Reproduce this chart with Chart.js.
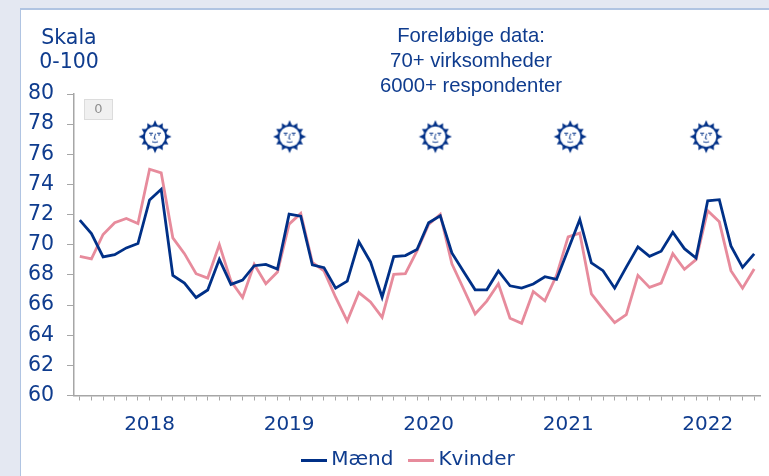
<!DOCTYPE html>
<html lang="da">
<head>
<meta charset="utf-8">
<title>Skala 0-100</title>
<script src="https://cdn.jsdelivr.net/npm/chart.js@4"></script>
<style>
html,body{margin:0;padding:0;width:769px;height:476px;overflow:hidden;background:#e4e8f2}
#panel{position:absolute;left:20px;top:8px;right:0;bottom:0;background:#fff;border-left:1.5px solid #b0c4e2;border-top:2px solid #b0c4e2}
#wrap{position:absolute;left:0;top:0;width:769px;height:476px;overflow:hidden}
</style>
</head>
<body>
<div id="panel"></div>
<div id="wrap"><canvas id="c" width="778" height="476"></canvas></div>
<script>
const years = ['2018','2019','2020','2021','2022'];
const monthNames = ['jan','feb','mar','apr','maj','jun','jul','aug','sep','okt','nov','dec'];
const maend = [71.63,70.74,69.19,69.34,69.79,70.08,72.97,73.68,67.97,67.46,66.5,67.0,
  69.03,67.37,67.66,68.61,68.7,68.39,72.03,71.9,68.66,68.48,67.12,67.59,
  70.19,68.86,66.52,69.21,69.28,69.68,71.46,71.92,69.46,68.23,67.01,67.01,
  68.26,67.28,67.12,67.4,67.88,67.7,69.68,71.68,68.79,68.28,67.12,68.52,
  69.86,69.23,69.57,70.83,69.74,69.12,72.92,72.99,69.92,68.5,69.39];
const kvinder = [69.23,69.06,70.68,71.46,71.74,71.41,75.01,74.77,70.46,69.41,68.08,67.79,
  70.01,67.59,66.5,68.7,67.41,68.19,71.37,72.08,68.83,68.26,66.52,64.94,
  66.83,66.21,65.19,68.03,68.08,69.59,71.34,72.01,68.74,67.08,65.41,66.26,
  67.41,65.12,64.79,66.9,66.28,67.97,70.52,70.77,66.74,65.77,64.83,65.37,
  67.97,67.17,67.46,69.41,68.37,69.01,72.26,71.52,68.28,67.12,68.39];
const sunMonths = [6.47,18.04,30.58,42.18,53.87];
const sunLevels = [77.17,77.17,77.17,77.17,77.17];
const seriesNames = ['Mænd','Kvinder'];
const scaleNote = ['Skala','0-100'];
const infoNote = ['Foreløbige data:','70+ virksomheder','6000+ respondenter'];
const badgeText = '0';

const categories = [];
years.forEach(y => monthNames.forEach(m => categories.push(m + ' ' + y)));
categories.length = maend.length;

const NAVY = '#003087', PINK = '#e78b9c', TEXT = '#0f3c8e', GREY = '#a6a6a6';
const FONT = '"DejaVu Sans"';

function makeSun() {
  const S = 34, cv = document.createElement('canvas');
  cv.width = S; cv.height = S;
  const g = cv.getContext('2d'), c = S / 2;
  g.fillStyle = NAVY;
  for (let i = 0; i < 12; i++) {
    const a = i * Math.PI / 6 - Math.PI / 2;
    const long = i % 3 === 0 ? 16.5 : 15.5;
    g.beginPath();
    g.moveTo(c + Math.cos(a) * long, c + Math.sin(a) * long);
    g.lineTo(c + Math.cos(a + 0.28) * 10.5, c + Math.sin(a + 0.28) * 10.5);
    g.lineTo(c + Math.cos(a - 0.28) * 10.5, c + Math.sin(a - 0.28) * 10.5);
    g.closePath(); g.fill();
  }
  g.beginPath(); g.arc(c, c, 12, 0, 7); g.fill();
  g.fillStyle = '#fff';
  g.beginPath(); g.arc(c, c, 10.2, 0, 7); g.fill();
  g.strokeStyle = NAVY; g.lineWidth = 0.9;
  g.beginPath();
  g.moveTo(c - 6, c - 3.5); g.lineTo(c - 2, c - 3.5);
  g.moveTo(c + 2, c - 3.5); g.lineTo(c + 6, c - 3.5);
  g.moveTo(c + 0.5, c - 3); g.lineTo(c - 1, c + 2); g.lineTo(c + 1, c + 2.2);
  g.moveTo(c - 3, c + 5); g.quadraticCurveTo(c, c + 6.5, c + 3, c + 5);
  g.stroke();
  g.fillStyle = NAVY;
  g.fillRect(c - 5, c - 2.4, 2, 1);
  g.fillRect(c + 3, c - 2.4, 2, 1);
  return cv;
}

function makeLineMark(color) {
  const cv = document.createElement('canvas');
  cv.width = 26; cv.height = 3;
  const g = cv.getContext('2d');
  g.fillStyle = color;
  g.fillRect(0, 0, 26, 3);
  return cv;
}

const notes = {
  id: 'notes',
  afterLayout(chart) {
    chart.legend.left += 22;
    chart.legend.right += 22;
    chart.legend.top = 460 - 10 - 21;
  },
  afterDraw(chart) {
    const g = chart.ctx;
    g.save();
    g.textAlign = 'center'; g.textBaseline = 'middle';
    g.fillStyle = TEXT;
    g.font = '20.5px ' + FONT;
    g.fillText(scaleNote[0], 69, 38.5);
    g.fillText(scaleNote[1], 69, 63);
    g.font = '20.3px "Liberation Sans"';
    infoNote.forEach((t, i) => g.fillText(t, 471, 36.5 + i * 25));
    g.fillStyle = '#f0f0f0'; g.strokeStyle = '#dcdcdc'; g.lineWidth = 1;
    g.fillRect(84.5, 99.5, 28, 20); g.strokeRect(84.5, 99.5, 28, 20);
    g.fillStyle = '#8f8f8f';
    g.font = '13px ' + FONT;
    g.fillText(badgeText, 98.5, 110);
    g.restore();
  }
};

new Chart(document.getElementById('c'), {
  data: {
    labels: categories,
    datasets: [
      { type: 'line', label: seriesNames[0], data: maend, borderColor: NAVY, backgroundColor: NAVY,
        borderWidth: 2.8, pointRadius: 0, pointStyle: makeLineMark(NAVY), tension: 0, fill: false, order: 1 },
      { type: 'line', label: seriesNames[1], data: kvinder, borderColor: PINK, backgroundColor: PINK,
        borderWidth: 2.8, pointRadius: 0, pointStyle: makeLineMark(PINK), tension: 0, fill: false, order: 2 },
      { type: 'scatter', label: 'sol', xAxisID: 'xSun',
        data: sunMonths.map((m, i) => ({ x: m, y: sunLevels[i] })),
        pointStyle: makeSun(), pointRadius: 17, showLine: false, order: 0 }
    ]
  },
  options: {
    responsive: false,
    animation: false,
    layout: { padding: { left: 0, right: 0, top: 94, bottom: -14.5 } },
    plugins: {
      title: { display: false },
      tooltip: { enabled: false },
      legend: {
        display: true,
        position: 'bottom',
        labels: {
          usePointStyle: true,
          pointStyleWidth: 14,
          color: TEXT,
          font: { family: FONT, size: 20 },
          padding: 21,
          filter: item => item.text !== 'sol',
          sort: (a, b) => a.datasetIndex - b.datasetIndex
        }
      }
    },
    scales: {
      x: {
        type: 'category',
        offset: true,
        grid: { display: true, drawOnChartArea: false, drawTicks: true, tickLength: 5, color: GREY, tickColor: GREY, offset: false },
        border: { display: true, color: GREY, width: 1.5 },
        ticks: {
          autoSkip: false, maxRotation: 0, minRotation: 0, padding: 12,
          color: TEXT, font: { family: FONT, size: 20 },
          callback(v, i) { return i % 12 === 6 ? years[Math.floor(i / 12)] : ''; }
        },
        afterFit(a) { a.height = 44; a.paddingLeft = 0; a.paddingRight = 0; }
      },
      xSun: {
        type: 'linear', display: false, min: -0.5, max: 58.5,
        ticks: { display: false },
        afterFit(a) { a.height = 0; a.paddingLeft = 0; a.paddingRight = 0; }
      },
      y: {
        min: 60, max: 80,
        grid: { display: true, drawOnChartArea: false, drawTicks: true, tickLength: 7, color: GREY, tickColor: GREY },
        border: { display: true, color: GREY, width: 1.5 },
        ticks: { stepSize: 2, padding: 13, color: TEXT, font: { family: FONT, size: 20.5 } },
        afterFit(a) { a.width = 74; }
      }
    }
  },
  plugins: [notes]
});
</script>
</body>
</html>
